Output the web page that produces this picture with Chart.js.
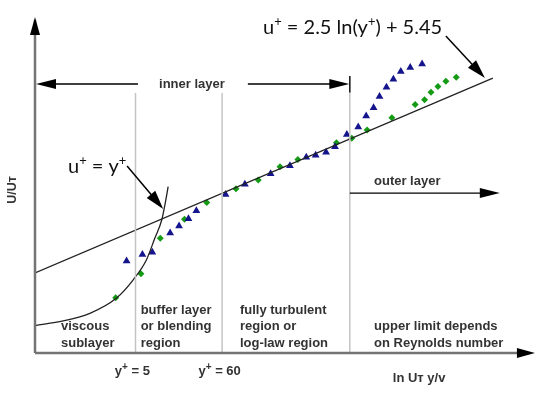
<!DOCTYPE html>
<html>
<head>
<meta charset="utf-8">
<script src="https://cdn.jsdelivr.net/npm/chart.js@4/dist/chart.umd.min.js"></script>
<style>
  html, body { margin: 0; padding: 0; background: #fff; }
  #wrap { width: 545px; height: 394px; position: relative; }
</style>
</head>
<body>
<div id="wrap"><canvas id="chart"></canvas></div>
<script>
// measured points (x ~ ln y+, y ~ u+ in arbitrary schematic units)
var blueX = [1.85, 2.17, 2.37, 2.73, 2.91, 3.10, 3.26, 3.85, 4.24, 4.76, 5.15, 5.48, 5.67, 5.88, 6.06, 6.30, 6.53, 6.69, 6.84, 6.96, 7.10, 7.24, 7.39, 7.58, 7.82];
var blueY = [9.25, 9.91, 10.13, 12.07, 12.78, 13.51, 14.31, 15.94, 16.97, 18.04, 18.84, 19.70, 19.89, 20.19, 20.75, 21.98, 22.73, 23.84, 24.68, 25.80, 26.74, 27.54, 28.32, 28.72, 29.07];
var greenX = [1.63, 2.14, 2.53, 3.02, 3.47, 4.06, 4.51, 4.95, 5.31, 6.09, 6.40, 6.71, 7.21, 7.68, 7.87, 8.00, 8.14, 8.30, 8.51];
var greenY = [5.56, 7.98, 11.54, 13.46, 15.14, 16.52, 17.40, 18.73, 19.47, 21.15, 21.59, 22.43, 23.67, 25.00, 25.48, 26.22, 26.81, 27.33, 27.73];

// u+ = y+ curve
var curveX = [0, 0.57, 1.11, 1.64, 1.98, 2.25, 2.42, 2.56, 2.63, 2.69];
var curveY = [2.75, 3.22, 3.99, 5.50, 7.34, 9.36, 11.54, 13.38, 15.06, 16.73];

// log law line end points
var logLawX = [0, 9.25];
var logLawY = [8.05, 27.66];

// region boundaries (y+ = 5, y+ = 60, outer limit)
var boundaryX = [2.03, 3.78, 6.36];
var boundaryTop = [26.15, 26.15, 27.86];

function pts(xs, ys) {
    return xs.map(function(x, i) { return {x: x, y: ys[i]}; });
}

var datasets = [];
boundaryX.forEach(function(bx, i) {
    datasets.push({
        data: [{x: bx, y: 0}, {x: bx, y: boundaryTop[i]}],
        showLine: true, borderColor: '#c4c4c4', borderWidth: 1.5, pointRadius: 0
    });
});
datasets.push({
    data: pts(logLawX, logLawY),
    showLine: true, borderColor: '#222', borderWidth: 1.3, pointRadius: 0
});
datasets.push({
    data: pts(curveX, curveY),
    showLine: true, borderColor: '#222', borderWidth: 1.3, pointRadius: 0,
    cubicInterpolationMode: 'monotone'
});
datasets.push({
    data: pts(blueX, blueY),
    pointStyle: 'triangle', pointRadius: 4.5, backgroundColor: '#14148c', borderColor: '#14148c', borderWidth: 0
});
datasets.push({
    data: pts(greenX, greenY),
    pointStyle: 'rectRot', pointRadius: 3.5, backgroundColor: '#159a15', borderColor: '#159a15', borderWidth: 0
});

function arrowHead(ctx, x1, y1, x2, y2, len, half) {
    var a = Math.atan2(y2 - y1, x2 - x1);
    ctx.beginPath();
    ctx.moveTo(x2, y2);
    ctx.lineTo(x2 - len * Math.cos(a) + half * Math.sin(a), y2 - len * Math.sin(a) - half * Math.cos(a));
    ctx.lineTo(x2 - len * Math.cos(a) - half * Math.sin(a), y2 - len * Math.sin(a) + half * Math.cos(a));
    ctx.closePath();
    ctx.fill();
}

function arrow(ctx, x1, y1, x2, y2, len, half, w) {
    var a = Math.atan2(y2 - y1, x2 - x1);
    ctx.lineWidth = w;
    ctx.beginPath();
    ctx.moveTo(x1, y1);
    ctx.lineTo(x2 - len * 0.8 * Math.cos(a), y2 - len * 0.8 * Math.sin(a));
    ctx.stroke();
    arrowHead(ctx, x1, y1, x2, y2, len, half);
}

// parts: [text, isSuperscript]
function richText(ctx, parts, x, y, size, supSize, family, weight) {
    var cx = x;
    ctx.textBaseline = 'alphabetic';
    ctx.textAlign = 'left';
    parts.forEach(function(p) {
        ctx.font = weight + ' ' + (p[1] ? supSize : size) + 'px ' + family;
        ctx.fillText(p[0], cx, p[1] ? y - size * 0.42 : y);
        cx += ctx.measureText(p[0]).width;
    });
    return cx - x;
}

function richWidth(ctx, parts, size, supSize, family, weight) {
    var w = 0;
    parts.forEach(function(p) {
        ctx.font = weight + ' ' + (p[1] ? supSize : size) + 'px ' + family;
        w += ctx.measureText(p[0]).width;
    });
    return w;
}

var overlay = {
    id: 'overlay',
    afterDatasetsDraw: function(chart) {
        var ctx = chart.ctx, xs = chart.scales.x, ys = chart.scales.y;
        function px(v) { return xs.getPixelForValue(v); }
        function py(v) { return ys.getPixelForValue(v); }
        var f = '"Liberation Sans", Arial, sans-serif';
        ctx.save();

        // axes
        ctx.strokeStyle = '#747474';
        ctx.fillStyle = '#000';
        ctx.lineWidth = 2.5;
        ctx.beginPath();
        ctx.moveTo(px(0), py(0));
        ctx.lineTo(px(0), py(33.5));
        ctx.moveTo(px(0), py(0));
        ctx.lineTo(px(9.9), py(0));
        ctx.stroke();
        arrowHead(ctx, px(0), py(0), px(0), py(33.8), 18, 5);
        arrowHead(ctx, px(0), py(0), px(10.1), py(0), 18, 5);

        // inner layer arrow
        ctx.strokeStyle = '#000';
        ctx.lineWidth = 1.3;
        var iy = py(27.06);
        ctx.beginPath();
        ctx.moveTo(px(2.08), iy); ctx.lineTo(px(0.3), iy);
        ctx.moveTo(px(4.30), iy); ctx.lineTo(px(6.0), iy);
        ctx.stroke();
        arrowHead(ctx, px(1), iy, px(0.02), iy, 20, 5);
        arrowHead(ctx, px(5), iy, px(6.35), iy, 20, 5);
        ctx.beginPath();
        ctx.moveTo(px(6.36), py(27.86)); ctx.lineTo(px(6.36), py(26.2));
        ctx.stroke();

        // outer layer arrow
        var oy = py(16.09);
        ctx.beginPath();
        ctx.moveTo(px(6.36), oy); ctx.lineTo(px(9.0), oy);
        ctx.stroke();
        arrowHead(ctx, px(7), oy, px(9.39), oy, 20, 5);

        // pointer arrows
        arrow(ctx, px(1.86), py(18.81), px(2.59), py(14.49), 19, 5.5, 1.5);
        arrow(ctx, px(8.30), py(31.89), px(9.09), py(27.66), 19, 5.5, 1.5);

        // bold labels
        ctx.fillStyle = '#333';
        ctx.font = 'bold 13px ' + f;
        ctx.textBaseline = 'middle';
        ctx.textAlign = 'center';
        ctx.fillText('inner layer', px(3.17), py(27.0));
        ctx.fillText('outer layer', px(7.52), py(17.3));

        ctx.textAlign = 'left';
        var rows = [4.33, 2.65, 0.98];
        var regions = [
            [0.525, ['', 'viscous', 'sublayer']],
            [2.135, ['buffer layer', 'or blending', 'region']],
            [4.14, ['fully turbulent', 'region or', 'log-law region']],
            [6.85, ['', 'upper limit depends', 'on Reynolds number']]
        ];
        regions.forEach(function(r) {
            r[1].forEach(function(t, i) { ctx.fillText(t, px(r[0]), py(rows[i])); });
        });

        ctx.textAlign = 'center';
        ctx.fillText('ln U\u0442 y/v', px(7.76), py(-2.51));

        // y+ = 5 / y+ = 60
        [[1.966, '5'], [3.73, '60']].forEach(function(l) {
            var parts = [['y', 0], ['+', 1], [' = ' + l[1], 0]];
            var w = richWidth(ctx, parts, 13, 10, f, 'bold');
            richText(ctx, parts, px(l[0]) - w / 2, py(-1.71) + 5, 13, 10, f, 'bold');
        });

        // y axis title
        ctx.save();
        ctx.translate(px(-0.444), py(16.4));
        ctx.rotate(-Math.PI / 2);
        ctx.textAlign = 'center';
        ctx.textBaseline = 'middle';
        ctx.font = 'bold 12.5px ' + f;
        ctx.fillText('U/U\u0442', 0, 0);
        ctx.restore();

        // equations
        ctx.fillStyle = '#111';
        richText(ctx, [['u', 0], ['+', 1], [' = y', 0], ['+', 1]], px(0.667), py(18.81) + 7, 20, 13, 'Lato, sans-serif', 'normal');
        richText(ctx, [['u', 0], ['+', 1], [' = 2.5 ln(y', 0], ['+', 1], [') + 5.45', 0]], px(4.606), py(32.79) + 7, 20, 13, 'Lato, sans-serif', 'normal');

        ctx.restore();
    }
};

new Chart(document.getElementById('chart'), {
    type: 'scatter',
    data: { datasets: datasets },
    options: {
        responsive: true,
        maintainAspectRatio: false,
        animation: false,
        layout: { padding: { left: 35, right: 15, top: 15, bottom: 41 } },
        plugins: { legend: { display: false }, tooltip: { enabled: false } },
        scales: {
            x: { type: 'linear', min: 0, max: 10, display: false },
            y: { type: 'linear', min: 0, max: 34, display: false }
        }
    },
    plugins: [overlay]
});
</script>
</body>
</html>
